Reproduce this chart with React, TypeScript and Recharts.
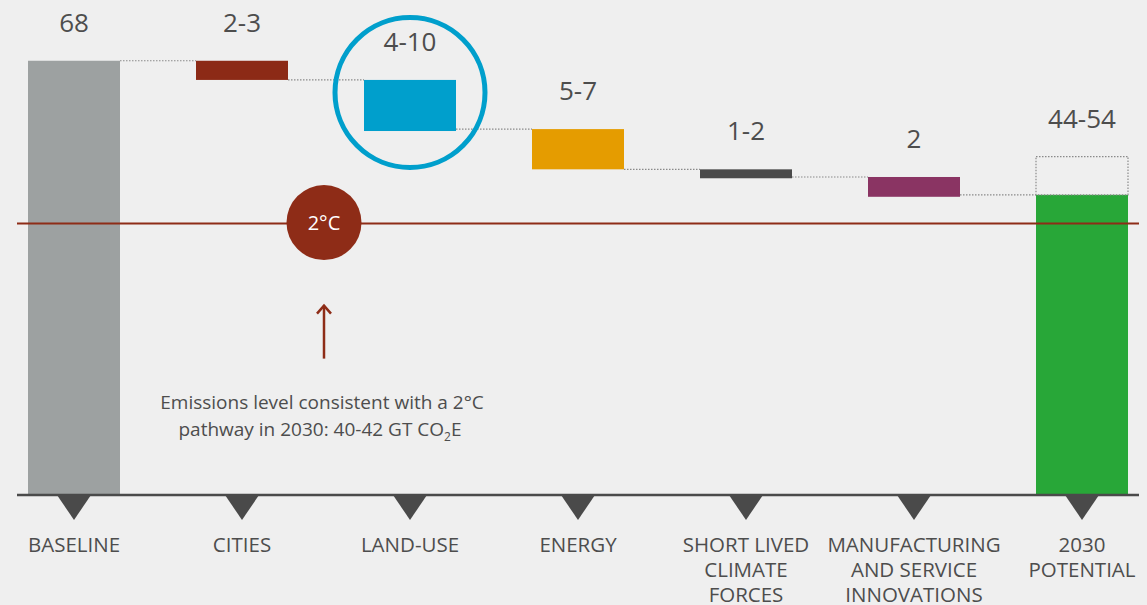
import { BarChart, Bar, XAxis, YAxis, Cell, ReferenceLine, LabelList } from "recharts";

const categories = [
  "BASELINE",
  "CITIES",
  "LAND-USE",
  "ENERGY",
  "SHORT LIVED\nCLIMATE\nFORCES",
  "MANUFACTURING\nAND SERVICE\nINNOVATIONS",
  "2030\nPOTENTIAL",
];
const lows = [0, 65, 57, 51, 49.6, 46.7, 0];
const highs = [68, 68, 65, 57.3, 51, 49.8, 47];
const potentialRange = [0, 0, 0, 0, 0, 0, 6];
const rangeLabels = ["68", "2-3", "4-10", "5-7", "1-2", "2", "44-54"];
const colors = ["#9da1a1", "#8c2a16", "#009fcc", "#e59c00", "#4a4a4a", "#8a3463", "#28a738"];
const pathwayLevel = 42.5;

const W = 1147;
const H = 605;
const MARGIN = { top: 48, right: 8, bottom: 0, left: 17 };
const PAD = -27; // bands reach past the axis line on both sides
const PLOT_W = W - MARGIN.left - MARGIN.right;
const STEP = (PLOT_W - 2 * PAD) / categories.length;
const FONT = "'Open Sans', sans-serif";
const TEXT = "#4d4d4d";
const RED = "#8e2c17";

const data = categories.map((name, i) => ({
  name,
  base: lows[i],
  value: highs[i] - lows[i],
  extra: potentialRange[i],
}));

const StepShape = (props: any) => {
  const { x, y, width, height, index, fill } = props;
  const perUnit = height / (highs[index] - lows[index]);
  const hasNext = index + 1 < highs.length;
  const ly = y + (highs[index] - (hasNext ? highs[index + 1] : 0)) * perUnit;
  return (
    <g>
      <rect x={x} y={y} width={width} height={height} fill={fill} />
      {hasNext && (
        <line
          x1={x + width}
          x2={x + STEP}
          y1={ly}
          y2={ly}
          stroke="#8a8a8a"
          strokeWidth={1.2}
          strokeDasharray="1.5 1.5"
        />
      )}
      {index === 2 && (
        <circle cx={x + width / 2} cy={y + height / 2 - 13} r={75} fill="none" stroke={colors[2]} strokeWidth={5} />
      )}
    </g>
  );
};

const BoxShape = (props: any) => {
  const { x, y, width, height } = props;
  if (!height || height <= 0) return null;
  return (
    <rect x={x} y={y} width={width} height={height} fill="none" stroke="#8a8a8a" strokeWidth={1.2} strokeDasharray="1.5 1.5" />
  );
};

const RangeLabel = (props: any) => {
  const vb = props.viewBox || props;
  const x = vb.x ?? props.x;
  const y = vb.y ?? props.y;
  const width = vb.width ?? props.width;
  const i = props.index;
  return (
    <text x={x + width / 2} y={y - 29} textAnchor="middle" fontSize={26} fill={TEXT} fontFamily={FONT}>
      {rangeLabels[i]}
    </text>
  );
};

const CategoryTick = (props: any) => {
  const { x, y, payload } = props;
  const lines = String(payload.value).split("\n");
  return (
    <g>
      <path d={`M${x - 17},${y} L${x + 17},${y} L${x},${y + 25} Z`} fill="#4a4a4a" />
      <text textAnchor="middle" fontSize={20.5} fill={TEXT} fontFamily={FONT}>
        {lines.map((l, i) => (
          <tspan key={i} x={x} y={y + 57 + i * 25}>
            {l}
          </tspan>
        ))}
      </text>
    </g>
  );
};

const PathwayNote = (props: any) => {
  const { x, y } = props.viewBox;
  const cx = x + PAD + 2 * STEP - 2;
  return (
    <g>
      <circle cx={cx} cy={y - 1} r={37.5} fill={RED} />
      <text x={cx} y={y + 6} textAnchor="middle" fontSize={20} fill="#ffffff" fontFamily={FONT}>
        2°C
      </text>
      <line x1={cx} x2={cx} y1={y + 135} y2={y + 82} stroke={RED} strokeWidth={2.5} />
      <path d={`M${cx - 7},${y + 90} L${cx},${y + 82} L${cx + 7},${y + 90}`} fill="none" stroke={RED} strokeWidth={2.5} />
      <text textAnchor="middle" fontSize={19} fill={TEXT} fontFamily={FONT}>
        <tspan x={cx - 2} y={y + 185}>Emissions level consistent with a 2°C</tspan>
        <tspan x={cx - 4} y={y + 212}>pathway in 2030: 40-42 GT CO</tspan>
        <tspan dy={5} fontSize={12}>2</tspan>
        <tspan dy={-5}>E</tspan>
      </text>
    </g>
  );
};

export default function App() {
  return (
    <div style={{ position: "absolute", left: 0, top: 0, width: W, height: H, background: "#efefef" }}>
      <BarChart width={W} height={H} data={data} margin={MARGIN} barSize={92}>
        <XAxis
          dataKey="name"
          interval={0}
          padding={{ left: PAD, right: PAD }}
          height={110}
          tickLine={false}
          tickSize={0}
          tickMargin={0}
          axisLine={{ stroke: "#4a4a4a", strokeWidth: 2.5 }}
          tick={<CategoryTick />}
        />
        <YAxis hide domain={[0, 70]} />
        <Bar dataKey="base" stackId="w" fill="transparent" isAnimationActive={false} />
        <Bar dataKey="value" stackId="w" shape={<StepShape />} isAnimationActive={false}>
          {data.map((_, i) => (
            <Cell key={i} fill={colors[i]} />
          ))}
        </Bar>
        <Bar dataKey="extra" stackId="w" shape={<BoxShape />} isAnimationActive={false}>
          <LabelList dataKey="extra" content={<RangeLabel />} />
        </Bar>
        <ReferenceLine y={pathwayLevel} stroke={RED} strokeWidth={2} label={<PathwayNote />} />
      </BarChart>
    </div>
  );
}
